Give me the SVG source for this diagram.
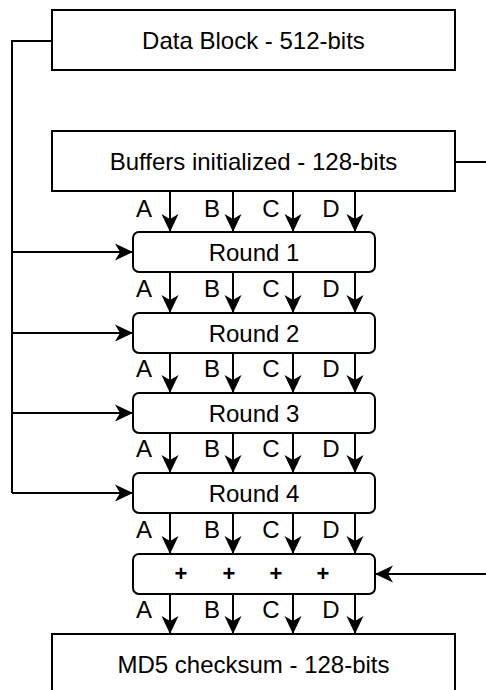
<svg xmlns="http://www.w3.org/2000/svg" width="486" height="690" viewBox="0 0 486 690">
  <defs>
    <marker id="arrow" markerUnits="userSpaceOnUse" markerWidth="20" markerHeight="20" viewBox="-18 -9 20 18" refX="0" refY="0" orient="auto">
      <path d="M0,0 L-18,-8.5 L-13,0 L-18,8.5 Z" fill="#000"/>
    </marker>
    <style>
      .box { fill: #fff; stroke: #000; stroke-width: 2; }
      .wire { fill: none; stroke: #000; stroke-width: 2; }
      .lbl { font-family: "Liberation Sans", Arial, sans-serif; font-size: 24px; fill: #000; }
      .mid { text-anchor: middle; }
      .plus { font-family: "Liberation Sans", Arial, sans-serif; font-size: 22px; font-weight: bold; fill: #000; text-anchor: middle; }
    </style>
  </defs>
  <rect width="486" height="690" fill="#fff"/>

  <!-- connectors -->
  <g id="connectors">
    <!-- data block feeds every round -->
    <path class="wire" d="M52,41 H12 V493"/>
    <path class="wire" d="M12,252 H133" marker-end="url(#arrow)"/>
    <path class="wire" d="M12,333 H133" marker-end="url(#arrow)"/>
    <path class="wire" d="M12,413 H133" marker-end="url(#arrow)"/>
    <path class="wire" d="M12,493 H133" marker-end="url(#arrow)"/>
    <!-- initial buffers fed forward to the final addition -->
    <path class="wire" d="M455,162 H500 V574 H375" marker-end="url(#arrow)"/>
    <!-- A B C D lanes -->
    <g id="lanes">
      <path class="wire" d="M170,191 V232 M233,191 V232 M293,191 V232 M355,191 V232" />
      <path class="wire" d="M170,272 V313 M233,272 V313 M293,272 V313 M355,272 V313" />
      <path class="wire" d="M170,353 V393 M233,353 V393 M293,353 V393 M355,353 V393" />
      <path class="wire" d="M170,433 V473 M233,433 V473 M293,433 V473 M355,433 V473" />
      <path class="wire" d="M170,513 V554 M233,513 V554 M293,513 V554 M355,513 V554" />
      <path class="wire" d="M170,594 V634 M233,594 V634 M293,594 V634 M355,594 V634" />
      <g fill="#000">
        <path id="head" d="M0,0 L-8.5,-18 L0,-13 L8.5,-18 Z" transform="translate(170,232)"/>
        <use href="#head" x="63" y="0"/>
        <use href="#head" x="123" y="0"/>
        <use href="#head" x="185" y="0"/>
        <use href="#head" x="0" y="81"/>
        <use href="#head" x="63" y="81"/>
        <use href="#head" x="123" y="81"/>
        <use href="#head" x="185" y="81"/>
        <use href="#head" x="0" y="161"/>
        <use href="#head" x="63" y="161"/>
        <use href="#head" x="123" y="161"/>
        <use href="#head" x="185" y="161"/>
        <use href="#head" x="0" y="241"/>
        <use href="#head" x="63" y="241"/>
        <use href="#head" x="123" y="241"/>
        <use href="#head" x="185" y="241"/>
        <use href="#head" x="0" y="322"/>
        <use href="#head" x="63" y="322"/>
        <use href="#head" x="123" y="322"/>
        <use href="#head" x="185" y="322"/>
        <use href="#head" x="0" y="402"/>
        <use href="#head" x="63" y="402"/>
        <use href="#head" x="123" y="402"/>
        <use href="#head" x="185" y="402"/>
      </g>
    </g>
    <!-- lane labels -->
    <g class="lbl mid">
      <g id="abcd">
        <text x="144" y="217">A</text>
        <text x="212" y="217">B</text>
        <text x="271" y="217">C</text>
        <text x="331" y="217">D</text>
      </g>
      <use href="#abcd" y="80"/>
      <use href="#abcd" y="160"/>
      <use href="#abcd" y="240"/>
      <use href="#abcd" y="321"/>
      <use href="#abcd" y="401"/>
    </g>
  </g>

  <g id="data-block">
    <rect class="box" x="52" y="10" width="403" height="60"/>
    <text class="lbl mid" x="253.5" y="49">Data Block - 512-bits</text>
  </g>
  <g id="buffers">
    <rect class="box" x="52" y="131" width="403" height="60"/>
    <text class="lbl mid" x="253.5" y="170">Buffers initialized - 128-bits</text>
  </g>
  <g id="round1">
    <rect class="box" x="133" y="232" width="242" height="40" rx="6"/>
    <text class="lbl mid" x="254" y="260.5">Round 1</text>
  </g>
  <g id="round2">
    <rect class="box" x="133" y="313" width="242" height="40" rx="6"/>
    <text class="lbl mid" x="254" y="341.5">Round 2</text>
  </g>
  <g id="round3">
    <rect class="box" x="133" y="393" width="242" height="40" rx="6"/>
    <text class="lbl mid" x="254" y="421.5">Round 3</text>
  </g>
  <g id="round4">
    <rect class="box" x="133" y="473" width="242" height="40" rx="6"/>
    <text class="lbl mid" x="254" y="501.5">Round 4</text>
  </g>
  <g id="adder">
    <rect class="box" x="133" y="554" width="242" height="40" rx="6"/>
    <text class="plus" x="181" y="580.5">+</text>
    <text class="plus" x="229" y="580.5">+</text>
    <text class="plus" x="276" y="580.5">+</text>
    <text class="plus" x="323" y="580.5">+</text>
  </g>
  <g id="checksum">
    <rect class="box" x="52" y="634" width="403" height="60"/>
    <text class="lbl mid" x="253.5" y="673">MD5 checksum - 128-bits</text>
  </g>
</svg>
